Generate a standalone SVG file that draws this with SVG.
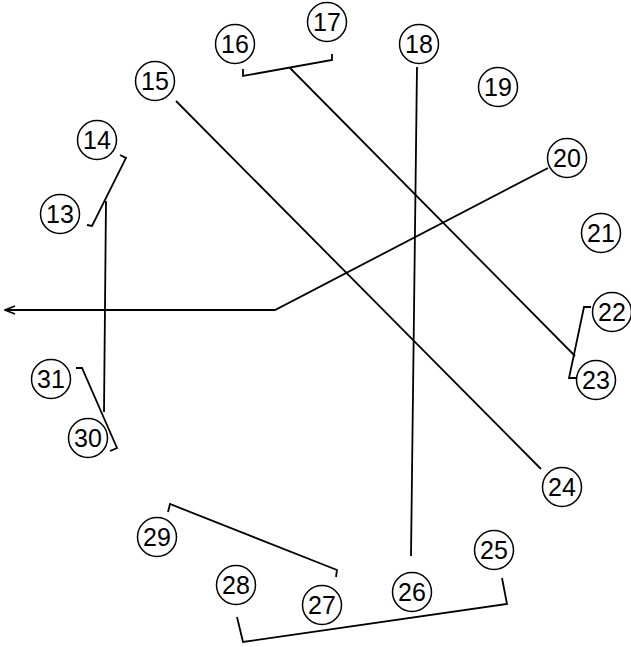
<svg xmlns="http://www.w3.org/2000/svg" width="631" height="647" viewBox="0 0 631 647">
<defs>
<style>
.n circle{fill:#fff;stroke:#000;stroke-width:1.5}
.n text{font-family:"Liberation Sans Narrow","Liberation Sans",Arial,sans-serif;font-size:25px;fill:#000;text-anchor:middle;dominant-baseline:central}
.c path{fill:none;stroke:#000;stroke-width:1.8;stroke-linejoin:miter}
</style>
<marker id="ah" markerWidth="12" markerHeight="10" refX="11" refY="5" orient="auto" markerUnits="userSpaceOnUse">
<path d="M1,1 L11,5 L1,9" fill="none" stroke="#000" stroke-width="1.8"/>
</marker>
</defs>
<g class="c" id="connectors">
<path d="M243,69 L243,76 L332,60 L332,54"/>
<path d="M290,68 L575,356"/>
<path d="M591,307 L584,307 L569,378 L576,378"/>
<path d="M176,101 L541,469"/>
<path d="M417,67 L411,556"/>
<path d="M548,168 L275,310 L5,310" marker-end="url(#ah)"/>
<path d="M120,155 L126,158 L92,226 L87,225"/>
<path d="M106,201 L104,412"/>
<path d="M76,368 L82,368 L117,448 L110,451"/>
<path d="M168,512 L170,504 L337,570 L336,577"/>
<path d="M502,578 L507,604 L243,642 L237,617"/>
</g>
<g class="n" id="n13"><circle cx="60" cy="214" r="19.5"/><text x="60" y="214">13</text></g>
<g class="n" id="n14"><circle cx="97" cy="140" r="19.5"/><text x="97" y="140">14</text></g>
<g class="n" id="n15"><circle cx="155" cy="81" r="19.5"/><text x="155" y="81">15</text></g>
<g class="n" id="n16"><circle cx="235" cy="44" r="19.5"/><text x="235" y="44">16</text></g>
<g class="n" id="n17"><circle cx="327" cy="22" r="19.5"/><text x="327" y="22">17</text></g>
<g class="n" id="n18"><circle cx="419" cy="44" r="19.5"/><text x="419" y="44">18</text></g>
<g class="n" id="n19"><circle cx="498" cy="87" r="19.5"/><text x="498" y="87">19</text></g>
<g class="n" id="n20"><circle cx="567" cy="158" r="19.5"/><text x="567" y="158">20</text></g>
<g class="n" id="n21"><circle cx="601" cy="233" r="19.5"/><text x="601" y="233">21</text></g>
<g class="n" id="n22"><circle cx="612" cy="312" r="19.5"/><text x="612" y="312">22</text></g>
<g class="n" id="n23"><circle cx="596" cy="380" r="19.5"/><text x="596" y="380">23</text></g>
<g class="n" id="n24"><circle cx="562" cy="487" r="19.5"/><text x="562" y="487">24</text></g>
<g class="n" id="n25"><circle cx="494" cy="550" r="19.5"/><text x="494" y="550">25</text></g>
<g class="n" id="n26"><circle cx="412" cy="592" r="19.5"/><text x="412" y="592">26</text></g>
<g class="n" id="n27"><circle cx="322" cy="605" r="19.5"/><text x="322" y="605">27</text></g>
<g class="n" id="n28"><circle cx="236" cy="585" r="19.5"/><text x="236" y="585">28</text></g>
<g class="n" id="n29"><circle cx="157" cy="537" r="19.5"/><text x="157" y="537">29</text></g>
<g class="n" id="n30"><circle cx="88" cy="438" r="19.5"/><text x="88" y="438">30</text></g>
<g class="n" id="n31"><circle cx="51" cy="379" r="19.5"/><text x="51" y="379">31</text></g>
</svg>
